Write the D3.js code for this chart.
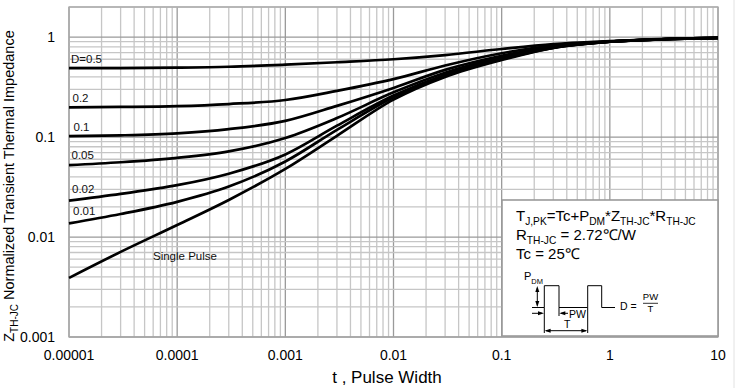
<!DOCTYPE html>
<html>
<head>
<meta charset="utf-8">
<script src="https://cdn.jsdelivr.net/npm/d3@7"></script>
<style>
  body { margin: 0; background: #fff; }
  svg { display: block; font-family: "Liberation Sans", Arial, sans-serif; }
</style>
</head>
<body>
<div id="container"></div>
<script>
// pulse widths (s) where curves are read
var tPts = [1e-5, 3e-5, 1e-4, 3e-4, 1e-3, 3e-3, 1e-2, 3e-2, 0.1, 0.3, 1, 3, 10];

// normalized transient thermal impedance, one array per duty cycle
var zD05    = [0.49, 0.49, 0.495, 0.505, 0.53, 0.56, 0.60, 0.66, 0.76, 0.85, 0.91, 0.955, 0.98];
var zD02    = [0.198, 0.20, 0.204, 0.214, 0.235, 0.29, 0.38, 0.52, 0.69, 0.82, 0.90, 0.95, 0.98];
var zD01    = [0.102, 0.104, 0.109, 0.12, 0.145, 0.205, 0.31, 0.47, 0.65, 0.80, 0.90, 0.95, 0.98];
var zD005   = [0.0525, 0.056, 0.062, 0.072, 0.098, 0.155, 0.28, 0.44, 0.63, 0.79, 0.90, 0.95, 0.98];
var zD002   = [0.0231, 0.027, 0.033, 0.043, 0.067, 0.13, 0.26, 0.42, 0.61, 0.785, 0.90, 0.95, 0.98];
var zD001   = [0.0137, 0.017, 0.0225, 0.032, 0.057, 0.118, 0.25, 0.41, 0.60, 0.78, 0.90, 0.95, 0.98];
var zSingle = [0.0039, 0.0071, 0.0132, 0.0235, 0.048, 0.103, 0.237, 0.40, 0.59, 0.78, 0.90, 0.95, 0.98];

var seriesNames = ["D=0.5", "0.2", "0.1", "0.05", "0.02", "0.01", "Single Pulse"];
var seriesVals = [zD05, zD02, zD01, zD005, zD002, zD001, zSingle];

var xTickLabels = ["0.00001", "0.0001", "0.001", "0.01", "0.1", "1", "10"];
var yTickLabels = ["0.001", "0.01", "0.1", "1"];

var W = 737, H = 388;
var margin = {top: 7, right: 19, bottom: 51, left: 69},
    width = W - margin.left - margin.right,
    height = H - margin.top - margin.bottom;

var svg = d3.select("#container").append("svg")
    .attr("width", W)
    .attr("height", H);

// faint page edge line at the right
svg.append("line")
    .attr("x1", 734).attr("x2", 734).attr("y1", 0).attr("y2", H)
    .style("stroke", "#e2e2e2").style("stroke-width", 1);

var g = svg.append("g")
    .attr("transform", "translate(" + margin.left + "," + margin.top + ")");

var x = d3.scaleLog().domain([1e-5, 10]).range([0, width]);
var y = d3.scaleLog().domain([0.001, 2]).range([height, 0]);

function isMajor(v) {
  var l = Math.log10(v);
  return Math.abs(l - Math.round(l)) < 1e-6;
}

// grid
var xt = x.ticks(), yt = y.ticks();
g.selectAll(".vgrid").data(xt).enter().append("line")
    .attr("x1", function(d) { return x(d); })
    .attr("x2", function(d) { return x(d); })
    .attr("y1", 0).attr("y2", height)
    .style("stroke", function(d) { return isMajor(d) ? "#9a9a9a" : "#c6c6c6"; })
    .style("stroke-width", 1.3);
g.selectAll(".hgrid").data(yt).enter().append("line")
    .attr("y1", function(d) { return y(d); })
    .attr("y2", function(d) { return y(d); })
    .attr("x1", 0).attr("x2", width)
    .style("stroke", function(d) { return isMajor(d) ? "#9a9a9a" : "#c6c6c6"; })
    .style("stroke-width", 1.3);

g.append("rect")
    .attr("width", width).attr("height", height)
    .style("fill", "none").style("stroke", "#a8a8a8").style("stroke-width", 1.3);

// tick labels
g.selectAll(".xl").data(xTickLabels).enter().append("text")
    .attr("x", function(d) { return x(+d); })
    .attr("y", height + 23)
    .attr("text-anchor", "middle")
    .style("font-size", "14px")
    .text(function(d) { return d; });
g.selectAll(".yl").data(yTickLabels).enter().append("text")
    .attr("x", -14)
    .attr("y", function(d) { return y(+d); })
    .attr("dy", "0.35em")
    .attr("text-anchor", "end")
    .style("font-size", "14px")
    .text(function(d) { return d; });

// axis titles
svg.append("text")
    .attr("x", 387).attr("y", 383)
    .attr("text-anchor", "middle")
    .style("font-size", "17px")
    .text("t , Pulse Width");

var yTitle = svg.append("text")
    .attr("transform", "translate(14,186) rotate(-90)")
    .attr("text-anchor", "middle")
    .style("font-size", "14.5px");
yTitle.append("tspan").text("Z");
yTitle.append("tspan").attr("dy", 4).style("font-size", "10px").text("TH-JC");
yTitle.append("tspan").attr("dy", -4).text(" Normalized Transient Thermal Impedance");

// curves
var line = d3.line()
    .x(function(d) { return x(d[0]); })
    .y(function(d) { return y(d[1]); })
    .curve(d3.curveMonotoneX);

seriesVals.forEach(function(vals) {
  var pts = tPts.map(function(t, i) { return [t, vals[i]]; });
  g.append("path")
      .attr("d", line(pts))
      .style("fill", "none")
      .style("stroke", "#000")
      .style("stroke-width", 2.7);
});

// curve labels
var labelPos = [[71, 63], [72.5, 101.5], [73.5, 130.5], [71.5, 158.5], [72, 192.5], [73, 215], [153, 260]];
seriesNames.forEach(function(n, i) {
  svg.append("text")
      .attr("x", labelPos[i][0]).attr("y", labelPos[i][1])
      .style("font-size", "11.5px")
      .style("fill", "#111")
      .text(n);
});

// info box
var box = svg.append("g").attr("transform", "translate(502,200)");
box.append("rect")
    .attr("width", 216).attr("height", 136)
    .style("fill", "#fff").style("stroke", "#9a9a9a").style("stroke-width", 1.6);

function subText(parent, xx, yy, parts, size) {
  var t = parent.append("text").attr("x", xx).attr("y", yy).style("font-size", size + "px");
  var shift = 0;
  parts.forEach(function(p) {
    var sub = p[1];
    var dy = sub ? 4 - shift : -shift;
    shift = sub ? 4 : 0;
    t.append("tspan")
        .attr("dy", dy)
        .style("font-size", (sub ? size * 0.68 : size) + "px")
        .text(p[0]);
  });
  return t;
}

subText(box, 14, 21, [["T"], ["J,PK", 1], ["=Tc+P"], ["DM", 1], ["*Z"], ["TH-JC", 1], ["*R"], ["TH-JC", 1]], 15);
subText(box, 14, 40, [["R"], ["TH-JC", 1], [" = 2.72\u2103/W"]], 15);
subText(box, 14, 58.5, [["Tc = 25\u2103"]], 15);

// pulse sketch
var p = box.append("g").style("stroke", "#000").style("stroke-width", 1).style("fill", "none");
p.append("path").attr("d", "M30,107.5 H42.3 V85.7 H57 V107.5 H85.7 V85.7 H99.7 V107.5 H113");
p.append("path").attr("d", "M42.3,107.5 V133 M85.7,107.5 V133 M57,107.5 V116");
p.append("path").attr("d", "M35.3,88 V105.5");
p.append("path").attr("d", "M30,113.3 H40 M66,113.3 H59 M44,130.7 H84");

var head = box.append("g").style("fill", "#000");
function arrow(xx, yy, dir) {
  var pts;
  if (dir === "r") pts = [[xx, yy], [xx - 6, yy - 2], [xx - 6, yy + 2]];
  if (dir === "l") pts = [[xx, yy], [xx + 6, yy - 2], [xx + 6, yy + 2]];
  if (dir === "u") pts = [[xx, yy], [xx - 2, yy + 6], [xx + 2, yy + 6]];
  if (dir === "d") pts = [[xx, yy], [xx - 2, yy - 6], [xx + 2, yy - 6]];
  head.append("path").attr("d", "M" + pts.join("L") + "Z");
}
arrow(35.3, 86, "u"); arrow(35.3, 107, "d");
arrow(42, 113.3, "r"); arrow(57.3, 113.3, "l");
arrow(42.6, 130.7, "l"); arrow(85.4, 130.7, "r");

subText(box, 22, 80, [["P"], ["DM", 1]], 11);
box.append("text").attr("x", 67).attr("y", 117.5).style("font-size", "10.5px").text("PW");
box.append("text").attr("x", 62).attr("y", 128).style("font-size", "10.5px").text("T");

box.append("text").attr("x", 118).attr("y", 110).style("font-size", "10.5px").text("D =");
box.append("text").attr("x", 148.5).attr("y", 100).attr("text-anchor", "middle").style("font-size", "9.5px").text("PW");
box.append("line").attr("x1", 141).attr("x2", 156).attr("y1", 103.3).attr("y2", 103.3)
    .style("stroke", "#000").style("stroke-width", 0.8);
box.append("text").attr("x", 148.5).attr("y", 112).attr("text-anchor", "middle").style("font-size", "9.5px").text("T");
</script>
</body>
</html>
